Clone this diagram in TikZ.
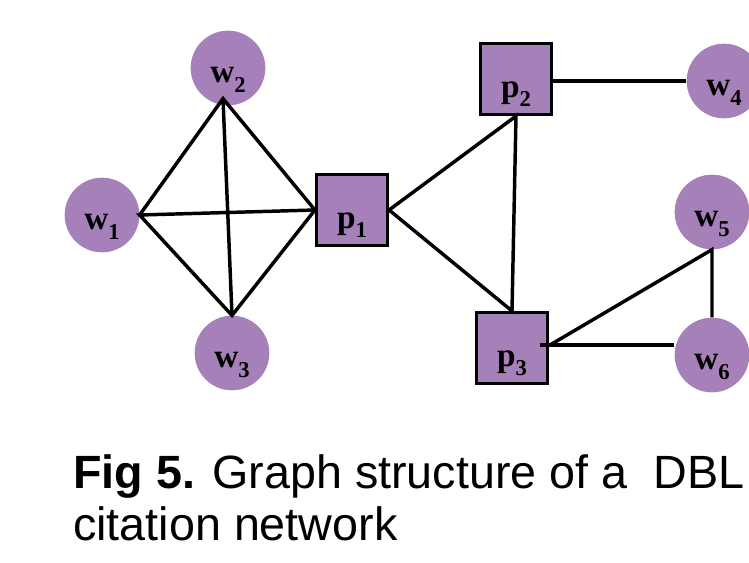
\documentclass[tikz,border=0pt]{standalone}
\usepackage{fontspec}
\setmainfont{Liberation Serif}
\newfontfamily\capfont{Liberation Sans}
\usetikzlibrary{calc}
\definecolor{nodepurple}{RGB}{166,128,184}
\newcommand{\nlbl}[2]{\textbf{#1}\raisebox{-7pt}{\fontsize{17}{17}\selectfont\bfseries #2}}

\begin{document}
\begin{tikzpicture}[x=0.75pt, y=-0.75pt,
    every node/.style={font=\fontsize{25}{25}\selectfont\bfseries, inner sep=0pt},
    word/.style={circle, fill=nodepurple, minimum size=56pt, text height=29pt, text depth=7pt},
    paper/.style={rectangle, draw, line width=2.6pt, fill=nodepurple, minimum size=53pt, text height=34pt, text depth=7pt},
    link/.style={line width=2.6pt}]
  \useasboundingbox (0,0) rectangle (749,562);
  \node[word] (w1) at (102,215) {\nlbl{w}{1}};
  \node[word] (w2) at (228,68) {\nlbl{w}{2}};
  \node[word] (w3) at (232,353) {\nlbl{w}{3}};
  \node[word] (w4) at (724,81) {\nlbl{w}{4}};
  \node[word] (w5) at (712,212) {\nlbl{w}{5}};
  \node[word] (w6) at (712,355) {\nlbl{w}{6}};
  \node[paper] (p1) at (352,210) {\nlbl{p}{1}};
  \node[paper] (p2) at (516,79) {\nlbl{p}{2}};
  \node[paper] (p3) at (512,348) {\nlbl{p}{3}};
  \coordinate (w2in) at ($(w2.south)+(-5,-7)$);
  \coordinate (p3in) at (540,345);
  \draw[link] (w1.east) -- (w2in) -- (p1.west) -- (w3.north) -- (w1.east) -- (p1.west);
  \draw[link] (w2in) -- (w3.north);
  \draw[link] (p1.east) -- (p2.south) -- (p3.north) -- (p1.east);
  \draw[link] (w4.west) -- (w4.west -| p2.east);
  \draw[link] (p3in) -- (p3in -| w6.west);
  \draw[link] ($(p3in)+(10,0)$) -- (w5.south) -- (w6.north);
  \node[font=\capfont\fontsize{35}{35}\selectfont, anchor=base west] (cap1) at (73,488) {\textbf{Fig 5.} Graph structure of a\ \ DBL};
  \node[font=\capfont\fontsize{35}{35}\selectfont, anchor=base west] (cap2) at (73,540) {citation network};
\end{tikzpicture}
\end{document}
